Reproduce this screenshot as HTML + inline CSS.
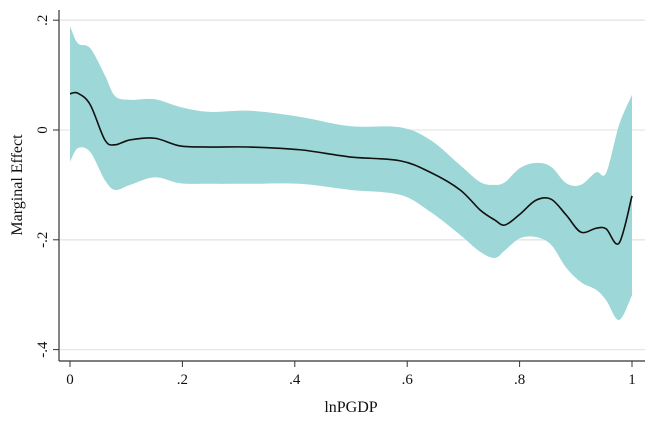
<!DOCTYPE html>
<html><head><meta charset="utf-8"><style>
body{margin:0;background:#fff}
svg text{font-family:"Liberation Serif",serif;fill:#111}
</style></head><body>
<svg id="c" width="663" height="421">
<g id="grid"></g><g id="band"></g><g id="line"></g><g id="axes"></g>
</svg>
<script>
const xs=[0,.014,.036,.062,.080,.107,.151,.196,.249,.320,.409,.498,.587,.641,.694,.730,.756,.774,.801,.829,.856,.883,.909,.936,.954,.977,1];
const meanVals=[.066,.067,.046,-.018,-.027,-.018,-.015,-.029,-.031,-.031,-.036,-.049,-.056,-.077,-.109,-.146,-.164,-.173,-.153,-.128,-.126,-.155,-.186,-.179,-.180,-.206,-.120];
const upperVals=[.189,.158,.149,.100,.062,.055,.056,.042,.033,.035,.024,.007,.005,-.018,-.064,-.095,-.100,-.095,-.069,-.060,-.067,-.097,-.100,-.077,-.078,.009,.064];
const lowerVals=[-.058,-.033,-.040,-.091,-.109,-.100,-.086,-.097,-.098,-.098,-.098,-.109,-.118,-.149,-.191,-.222,-.233,-.219,-.197,-.195,-.209,-.251,-.277,-.291,-.310,-.346,-.301];
const xTicks=[0,.2,.4,.6,.8,1];
const xTickLabels=["0",".2",".4",".6",".8","1"];
const yTicks=[.2,0,-.2,-.4];
const yTickLabels=[".2","0","-.2","-.4"];
const NS="http://www.w3.org/2000/svg";
const X=v=>70+v*562, Y=v=>130-v*549;
function el(p,t,a){const e=document.createElementNS(NS,t);for(const k in a)e.setAttribute(k,a[k]);document.getElementById(p).appendChild(e);return e;}
function spline(pts){let d="M"+pts[0][0]+","+pts[0][1];for(let i=0;i<pts.length-1;i++){const p0=pts[Math.max(i-1,0)],p1=pts[i],p2=pts[i+1],p3=pts[Math.min(i+2,pts.length-1)];const c1=[p1[0]+(p2[0]-p0[0])/6,p1[1]+(p2[1]-p0[1])/6],c2=[p2[0]-(p3[0]-p1[0])/6,p2[1]-(p3[1]-p1[1])/6];d+=" C"+c1+" "+c2+" "+p2;}return d;}
yTicks.forEach((t,i)=>{
 const g=el("grid","line",{x1:60,x2:645,y1:Y(t),y2:Y(t),stroke:"#e6e6e6","stroke-width":1.3});
 
 
 const tk=el("axes","line",{x1:53,x2:59,y1:Y(t),y2:Y(t),stroke:"#333"});
 
 
 const lb=el("axes","text",{x:0,y:0,"font-size":15,"text-anchor":"middle",transform:`translate(47,${Y(t)}) rotate(-90)`});
 lb.textContent=yTickLabels[i];
 
 
});
const up=xs.map((x,i)=>[X(x),Y(upperVals[i])]),lo=xs.map((x,i)=>[X(x),Y(lowerVals[i])]).reverse();
const b=el("band","path",{d:spline(up)+" L"+lo[0]+" "+spline(lo).slice(1)+" Z",fill:"#9dd7d7"});


const m=el("line","path",{d:spline(xs.map((x,i)=>[X(x),Y(meanVals[i])])),fill:"none",stroke:"#111","stroke-width":1.6});


const ya=el("axes","line",{x1:59,x2:59,y1:10,y2:361,stroke:"#333","stroke-width":1.2});


const xa=el("axes","line",{x1:59,x2:645,y1:361,y2:361,stroke:"#333","stroke-width":1.2});


xTicks.forEach((t,i)=>{
 const tk=el("axes","line",{x1:X(t),x2:X(t),y1:361,y2:367,stroke:"#333"});
 
 
 const lb=el("axes","text",{x:X(t),y:384,"font-size":15,"text-anchor":"middle"});
 lb.textContent=xTickLabels[i];
 
 
});
const xt=el("axes","text",{x:351,y:412,"font-size":16,"text-anchor":"middle"});
xt.textContent="lnPGDP";


const yt=el("axes","text",{x:0,y:0,"font-size":16,"text-anchor":"middle",transform:"translate(22,185) rotate(-90)"});
yt.textContent="Marginal Effect";


</script>
</body></html>
